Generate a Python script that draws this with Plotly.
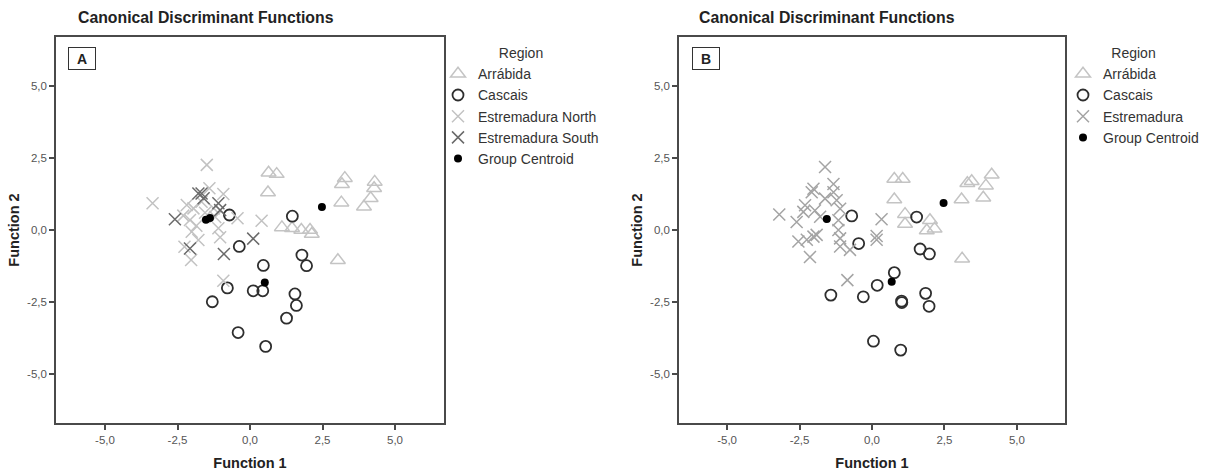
import plotly.graph_objects as go

# ---------------- data ----------------
tick_vals = [-5.0, -2.5, 0.0, 2.5, 5.0]
tick_text = ["-5,0", "-2,5", "0,0", "2,5", "5,0"]

# Panel A
a_arr_x = [0.64, 0.92, 0.62, 1.10, 1.45, 1.77, 2.07, 2.13, 3.03, 3.27, 3.17, 3.15, 4.30, 4.28, 4.16, 3.93]
a_arr_y = [1.99, 1.94, 1.30, 0.09, 0.06, 0.00, 0.00, -0.14, -1.05, 1.80, 1.59, 0.95, 1.67, 1.45, 1.10, 0.81]

a_cas_x = [-0.71, 1.46, -0.37, 1.79, 1.95, 0.46, -0.78, 0.11, 0.44, -1.30, 1.55, 1.60, 1.26, -0.41, 0.54]
a_cas_y = [0.52, 0.48, -0.57, -0.87, -1.24, -1.23, -2.01, -2.11, -2.11, -2.49, -2.22, -2.62, -3.06, -3.56, -4.04]

a_north_x = [-1.49, -3.36, -1.40, -0.92, -2.18, -1.95, -2.07, -2.01, -1.78, -2.26, -2.03,
             -1.09, -1.03, -0.92, -1.67, -0.43, 0.40, -1.25, -1.55, -1.85, -1.20, -2.30]
a_north_y = [2.26, 0.93, 1.45, 1.25, 0.87, 0.75, 0.35, -0.06, -0.35, -0.58, -1.04,
             0.06, -0.25, -1.76, 0.98, 0.41, 0.32, 0.75, 0.60, 0.15, 0.45, 0.50]

a_south_x = [-1.78, -1.67, -1.60, -1.09, -1.03, -2.59, 0.11, -2.07, -0.90]
a_south_y = [1.27, 1.27, 1.10, 0.93, 0.69, 0.37, -0.30, -0.64, -0.83]

a_cent_x = [-1.52, -1.38, 0.51, 2.48]
a_cent_y = [0.36, 0.42, -1.82, 0.80]

# Panel B
b_arr_x = [0.77, 1.06, 0.77, 1.14, 1.14, 2.00, 1.89, 2.16, 3.11, 3.09, 3.29, 3.44, 3.93, 4.13, 3.84]
b_arr_y = [1.77, 1.77, 1.06, 0.55, 0.21, 0.34, -0.02, 0.04, -1.00, 1.06, 1.62, 1.69, 1.54, 1.92, 1.12]

b_cas_x = [-0.70, 1.54, -0.46, 1.66, 1.98, 0.77, 0.18, -0.30, -1.42, 1.02, 1.03, 1.85, 1.97, 0.05, 0.99]
b_cas_y = [0.49, 0.45, -0.47, -0.66, -0.83, -1.48, -1.92, -2.32, -2.26, -2.47, -2.52, -2.20, -2.65, -3.86, -4.17]

b_est_x = [-1.62, -3.20, -2.02, -2.08, -1.33, -1.33, -1.62, -2.31, -2.37, -1.97, -2.60, -1.22, -1.10, -1.16,
           -1.16, -1.10, -1.10, -0.76, -2.54, -2.25, -2.02, -1.91, -2.14, -1.79, 0.33, 0.16, 0.16, -0.85]
b_est_y = [2.19, 0.54, 1.43, 1.31, 1.60, 1.31, 1.09, 0.86, 0.63, 0.68, 0.28, 1.03, 0.74, 0.34,
           0.00, -0.29, -0.57, -0.69, -0.40, -0.34, -0.23, -0.17, -0.94, 0.46, 0.37, -0.21, -0.34, -1.74]

b_cent_x = [-1.56, 2.47, 0.68]
b_cent_y = [0.38, 0.94, -1.80]

# ---------------- figure ----------------
W, H = 1225, 472
FONT = "Liberation Sans, Arial, sans-serif"

fig = go.Figure()


def add(x, y, name, symbol, color, size, xa, ya, legend, lw=1.5):
    fig.add_trace(go.Scatter(
        x=x, y=y, mode="markers", name=name, xaxis=xa, yaxis=ya, legend=legend,
        marker=dict(symbol=symbol, color=color, size=size,
                    line=dict(color=color, width=lw)),
    ))


add(a_arr_x, a_arr_y, "Arrábida", "triangle-up-open", "#c4c4c4", 13, "x", "y", "legend")
add(a_cas_x, a_cas_y, "Cascais", "circle-open", "#2e2e2e", 11, "x", "y", "legend", lw=1.8)
add(a_north_x, a_north_y, "Estremadura North", "x-thin-open", "#c2c2c2", 12, "x", "y", "legend")
add(a_south_x, a_south_y, "Estremadura South", "x-thin-open", "#6a6a6a", 12, "x", "y", "legend")
add(a_cent_x, a_cent_y, "Group Centroid", "circle", "#000000", 8, "x", "y", "legend", lw=0)

add(b_arr_x, b_arr_y, "Arrábida", "triangle-up-open", "#c4c4c4", 13, "x2", "y2", "legend2")
add(b_cas_x, b_cas_y, "Cascais", "circle-open", "#2e2e2e", 11, "x2", "y2", "legend2", lw=1.8)
add(b_est_x, b_est_y, "Estremadura", "x-thin-open", "#a4a4a4", 12, "x2", "y2", "legend2")
add(b_cent_x, b_cent_y, "Group Centroid", "circle", "#000000", 8, "x2", "y2", "legend2", lw=0)

axis_common = dict(
    showgrid=False, zeroline=False, showline=True, mirror=True,
    linecolor="#4a4a4a", linewidth=1.5, ticks="outside", ticklen=5,
    tickwidth=1.5, tickcolor="#4a4a4a", tickvals=tick_vals, ticktext=tick_text,
    tickfont=dict(family=FONT, size=11.5, color="#555555"),
)

ydom = [1 - 423 / H, 1 - 37 / H]
xtitle = dict(text="<b>Function 1</b>", font=dict(size=14.5, color="#222"), standoff=13)
ytitle = dict(text="<b>Function 2</b>", font=dict(size=14.5, color="#222"), standoff=4)

fig.update_layout(
    width=W, height=H, margin=dict(l=0, r=0, t=0, b=0),
    paper_bgcolor="white", plot_bgcolor="white",
    font=dict(family=FONT),
    xaxis=dict(domain=[56 / W, 444 / W], range=[-6.69, 6.69], anchor="y", title=xtitle, **axis_common),
    yaxis=dict(domain=ydom, range=[-6.7, 6.7], anchor="x", title=ytitle, **axis_common),
    xaxis2=dict(domain=[679 / W, 1065 / W], range=[-6.66, 6.66], anchor="y2", title=xtitle, **axis_common),
    yaxis2=dict(domain=ydom, range=[-6.7, 6.7], anchor="x2", title=ytitle, **axis_common),
    legend=dict(x=438 / W, y=1 - 40 / H, xanchor="left", yanchor="top",
                bgcolor="rgba(0,0,0,0)",
                title=dict(text="Region", side="top center", font=dict(size=14, color="#333")),
                font=dict(size=14, color="#333"), itemclick=False),
    legend2=dict(x=1063 / W, y=1 - 40 / H, xanchor="left", yanchor="top",
                 bgcolor="rgba(0,0,0,0)",
                 title=dict(text="Region", side="top center", font=dict(size=14, color="#333")),
                 font=dict(size=14, color="#333"), itemclick=False),
    showlegend=True,
)

for xpos in (76, 697):
    fig.add_annotation(text="<b>Canonical Discriminant Functions</b>", xref="paper", yref="paper",
                       x=xpos / W, y=1 - 17 / H, xanchor="left", yanchor="middle",
                       showarrow=False, font=dict(size=15.8, color="#222"))

for label, xpos in (("A", 68), ("B", 692)):
    fig.add_annotation(text="<b>%s</b>" % label, xref="paper", yref="paper",
                       x=xpos / W, y=1 - 47 / H, xanchor="left", yanchor="top",
                       showarrow=False, font=dict(size=14, color="#222"),
                       bordercolor="#333", borderwidth=1, borderpad=3, bgcolor="white",
                       width=20, height=15)

fig.write_html("out.html")
